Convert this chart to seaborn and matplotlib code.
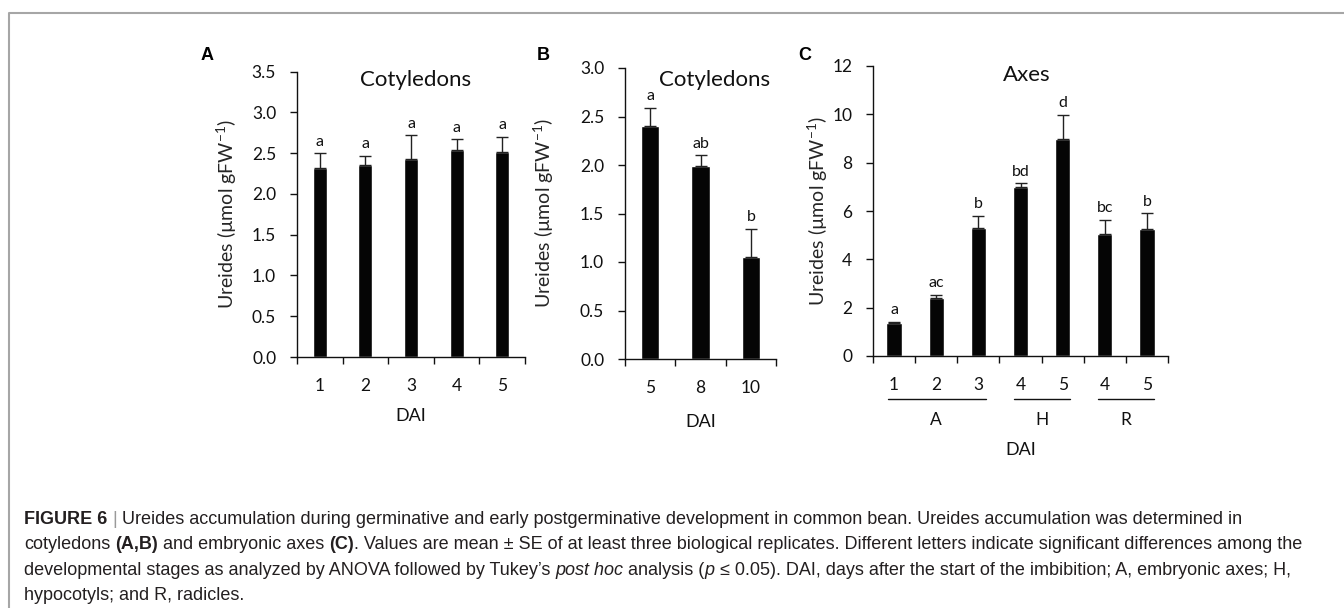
import numpy as np
import pandas as pd
import seaborn as sns
import matplotlib
matplotlib.use("Agg")
import matplotlib.pyplot as plt
import matplotlib.ticker as mticker
from matplotlib.lines import Line2D

# values (mean and upper SE)
dai_a = ["1", "2", "3", "4", "5"]
mean_a = [2.32, 2.36, 2.43, 2.54, 2.51]
se_a = [0.18, 0.11, 0.29, 0.13, 0.19]
letters_a = ["a", "a", "a", "a", "a"]
yticks_a = [0.0, 0.5, 1.0, 1.5, 2.0, 2.5, 3.0, 3.5]

dai_b = ["5", "8", "10"]
mean_b = [2.40, 1.99, 1.05]
se_b = [0.19, 0.11, 0.29]
letters_b = ["a", "ab", "b"]
yticks_b = [0.0, 0.5, 1.0, 1.5, 2.0, 2.5, 3.0]

dai_c = ["1", "2", "3", "4", "5", "4", "5"]
organ_c = ["A", "A", "A", "H", "H", "R", "R"]
mean_c = [1.35, 2.39, 5.28, 6.98, 8.99, 5.05, 5.24]
se_c = [0.06, 0.13, 0.52, 0.16, 0.99, 0.58, 0.66]
letters_c = ["a", "ac", "b", "bd", "d", "bc", "b"]
yticks_c = [0, 2, 4, 6, 8, 10, 12]

YLABEL = "Ureides (µmol gFW$^{\\mathregular{-1}}$)"

caption_lines = [
  [("FIGURE 6", "bold", "normal", "#231f20"), (" | ", "normal", "normal", "#9a9a9a"),
   ("Ureides accumulation during germinative and early postgerminative development in common bean. "
    "Ureides accumulation was determined in", "normal", "normal", "#231f20")],
  [("cotyledons ", "normal", "normal", "#231f20"), ("(A,B)", "bold", "normal", "#231f20"),
   (" and embryonic axes ", "normal", "normal", "#231f20"), ("(C)", "bold", "normal", "#231f20"),
   (". Values are mean ± SE of at least three biological replicates. Different letters indicate "
    "significant differences among the", "normal", "normal", "#231f20")],
  [("developmental stages as analyzed by ANOVA followed by Tukey’s ", "normal", "normal", "#231f20"),
   ("post hoc", "normal", "italic", "#231f20"), (" analysis (", "normal", "normal", "#231f20"),
   ("p", "normal", "italic", "#231f20"),
   (" ≤ 0.05). DAI, days after the start of the imbibition; A, embryonic axes; H,", "normal", "normal", "#231f20")],
  [("hypocotyls; and R, radicles.", "normal", "normal", "#231f20")],
]

W, H = 1344, 608
BAR = "#050505"
INK = "#111111"

sns.set_style("ticks")
plt.rcParams["font.family"] = ["Lato", "DejaVu Sans"]
plt.rcParams["axes.linewidth"] = 1.0
plt.rcParams["axes.edgecolor"] = INK
plt.rcParams["xtick.color"] = INK
plt.rcParams["ytick.color"] = INK

fig = plt.figure(figsize=(W / 100, H / 100), dpi=100)


def px_axes(left, right, top, bottom):
  return fig.add_axes([left / W, 1 - bottom / H, (right - left) / W, (bottom - top) / H])


def panel(ax, keys, labels, means, ses, letters, yticks, yfmt, width, title, title_xy, ylab_x):
  df = pd.DataFrame({"key": keys, "mean": means})
  sns.barplot(data=df, x="key", y="mean", order=keys, color=BAR, saturation=1, width=width, errorbar=None, ax=ax)
  n = len(keys)
  xs = np.arange(n)
  ax.errorbar(xs, means, yerr=[np.zeros(n), ses], fmt="none", ecolor="#222222", elinewidth=1.0,
              capsize=4.3, capthick=1.0)
  for xi, m, s, lt in zip(xs, means, ses, letters):
    ax.annotate(lt, (xi, m + s), xytext=(0, 5.5), textcoords="offset points", ha="center",
                va="baseline", fontsize=11.5, color=INK)
  ax.set_xlim(-0.5, n - 0.5)
  ax.set_xticks(np.arange(n + 1) - 0.5)
  ax.set_xticklabels([])
  ax.set_xticks(xs, minor=True)
  ax.set_xticklabels(labels, minor=True)
  ax.tick_params(axis="x", which="major", length=5, width=1.0, direction="out")
  ax.tick_params(axis="x", which="minor", length=0, pad=15, labelsize=12.5)
  ax.set_ylim(yticks[0], yticks[-1])
  ax.set_yticks(yticks)
  ax.yaxis.set_major_formatter(mticker.FormatStrFormatter(yfmt))
  ax.tick_params(axis="y", length=5, width=1.0, direction="out", pad=10, labelsize=12.5)
  sns.despine(ax=ax)
  ax.set_xlabel("")
  ax.set_ylabel(YLABEL, fontsize=14)
  ax.yaxis.set_label_coords(ylab_x, 0.5)
  ax.text(title_xy[0], title_xy[1], title, transform=ax.transAxes, ha="center", va="center",
          fontsize=16, color=INK)


ax_a = px_axes(297, 525, 71.7, 357)
panel(ax_a, dai_a, dai_a, mean_a, se_a, letters_a, yticks_a, "%.1f", 0.31, "Cotyledons", (0.52, 0.971), -0.254)
ax_a.text(0.5, -0.207, "DAI", transform=ax_a.transAxes, ha="center", va="center", fontsize=13, color=INK)

ax_b = px_axes(625, 776, 68, 359)
panel(ax_b, dai_b, dai_b, mean_b, se_b, letters_b, yticks_b, "%.1f", 0.36, "Cotyledons", (0.59, 0.959), -0.457)
ax_b.text(0.5, -0.216, "DAI", transform=ax_b.transAxes, ha="center", va="center", fontsize=13, color=INK)

keys_c = [o + d for o, d in zip(organ_c, dai_c)]
ax_c = px_axes(873, 1168, 66, 356)
panel(ax_c, keys_c, dai_c, mean_c, se_c, letters_c, yticks_c, "%d", 0.36, "Axes", (0.522, 0.969), -0.146)
ax_c.text(0.5, -0.324, "DAI", transform=ax_c.transAxes, ha="center", va="center", fontsize=13, color=INK)

# organ groups under the DAI ticks of panel C
trans_c = ax_c.get_xaxis_transform()
for organ in dict.fromkeys(organ_c):
  idx = [i for i, o in enumerate(organ_c) if o == organ]
  ax_c.plot([idx[0] - 0.15, idx[-1] + 0.17], [-0.148, -0.148], transform=trans_c, color=INK, lw=1.0, clip_on=False)
  ax_c.text(np.mean(idx), -0.221, organ, transform=trans_c, ha="center", va="center", fontsize=12.5, color=INK)

# panel letters
for lbl, x in (("A", 207), ("B", 543), ("C", 805)):
  fig.text(x / W, 1 - 55 / H, lbl, fontsize=13, fontweight="bold", family="Liberation Sans",
           ha="center", va="center", color="#000000")

# frame of the figure box
fig.add_artist(Line2D([9 / W, 9 / W, 1.0], [0.0, 1 - 13 / H, 1 - 13 / H], transform=fig.transFigure,
                      color="#a6a6a6", lw=1.5))

# caption, drawn run by run so bold / italic pieces sit inline
renderer = fig.canvas.get_renderer()
CAP_SIZE = 13.0


def measure(s, **kw):
  t = fig.text(0, 0, s, **kw)
  w = t.get_window_extent(renderer).width
  t.remove()
  return w


cap_kw = dict(fontsize=CAP_SIZE, family="Liberation Sans")
space_w = measure("x x", **cap_kw) - measure("xx", **cap_kw)

for li, runs in enumerate(caption_lines):
  x = 24.0
  y = 524 + li * 25.3
  for s, weight, style, color in runs:
    lead = len(s) - len(s.lstrip(" "))
    trail = len(s) - len(s.rstrip(" "))
    x += lead * space_w
    core = s.strip(" ")
    t = fig.text(x / W, 1 - y / H, core, fontweight=weight, fontstyle=style, color=color,
                 ha="left", va="baseline", **cap_kw)
    x += t.get_window_extent(renderer).width + trail * space_w

fig.savefig("out.png", dpi=100)
